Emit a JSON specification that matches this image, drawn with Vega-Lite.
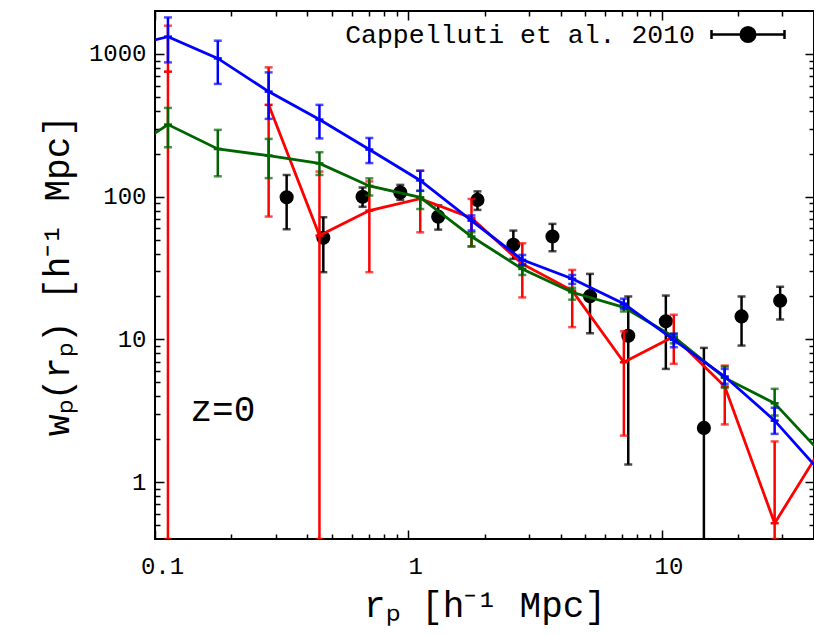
{
  "$schema": "https://vega.github.io/schema/vega-lite/v6.json",
  "width": 659,
  "height": 528,
  "autosize": "none",
  "padding": {"left": 155, "top": 11, "right": 0, "bottom": 96},
  "config": {
    "view": {"stroke": "black", "strokeWidth": 2},
    "font": "Liberation Mono",
    "axis": {
      "grid": false,
      "domain": false,
      "tickColor": "black",
      "tickWidth": 1.5,
      "labelColor": "black",
      "labelFont": "Liberation Mono",
      "labelFontSize": 24,
      "titleFont": "Liberation Mono",
      "titleFontSize": 36,
      "titleFontWeight": "normal",
      "titleColor": "black"
    },
    "legend": {
      "labelFont": "Liberation Mono",
      "labelFontSize": 26,
      "labelColor": "black",
      "labelLimit": 600
    }
  },
  "datasets": {
    "blue": [
      {"x": 0.0707, "y": 1077, "lo": null, "hi": null},
      {"x": 0.1125, "y": 1322, "lo": 873, "hi": 1803},
      {"x": 0.177, "y": 931, "lo": 617, "hi": 1239},
      {"x": 0.281, "y": 545, "lo": 351, "hi": 743},
      {"x": 0.446, "y": 347, "lo": 256, "hi": 440},
      {"x": 0.702, "y": 214, "lo": 172, "hi": 258},
      {"x": 1.115, "y": 130, "lo": 110, "hi": 152},
      {"x": 1.777, "y": 68, "lo": 58, "hi": 74},
      {"x": 2.82, "y": 36.1, "lo": 33.3, "hi": 39.1},
      {"x": 4.44, "y": 26.6, "lo": 24.5, "hi": 28.3},
      {"x": 7.1, "y": 17.8, "lo": 16.4, "hi": 19.3},
      {"x": 11.18, "y": 9.94, "lo": 8.82, "hi": 10.95},
      {"x": 17.77, "y": 5.5, "lo": 4.89, "hi": 6.22},
      {"x": 27.97, "y": 2.7, "lo": 2.18, "hi": 3.32},
      {"x": 44.4, "y": 1.08, "lo": null, "hi": null}
    ],
    "green": [
      {"x": 0.0707, "y": 186, "lo": null, "hi": null},
      {"x": 0.1125, "y": 320, "lo": 222, "hi": 419},
      {"x": 0.177, "y": 216, "lo": 139, "hi": 294},
      {"x": 0.281, "y": 194, "lo": 135, "hi": 254},
      {"x": 0.446, "y": 171, "lo": 142, "hi": 205},
      {"x": 0.702, "y": 119, "lo": 102, "hi": 134.5},
      {"x": 1.115, "y": 99, "lo": 82, "hi": 110},
      {"x": 1.777, "y": 52.6, "lo": 44.7, "hi": 56.4},
      {"x": 2.82, "y": 31.2, "lo": 28.3, "hi": 32.9},
      {"x": 4.44, "y": 21.4, "lo": 19.0, "hi": 23.0},
      {"x": 7.1, "y": 16.8, "lo": 15.7, "hi": 17.5},
      {"x": 11.18, "y": 10.4, "lo": 9.4, "hi": 11.0},
      {"x": 17.77, "y": 5.38, "lo": 4.58, "hi": 6.46},
      {"x": 27.97, "y": 3.57, "lo": 2.93, "hi": 4.51},
      {"x": 44.4, "y": 1.48, "lo": null, "hi": null}
    ],
    "red": [
      {"x": 0.1125, "y": 752, "lo": 0.4, "hi": 1578},
      {"x": 0.177, "y": null, "lo": null, "hi": null},
      {"x": 0.281, "y": 440, "lo": 72.6, "hi": 806},
      {"x": 0.446, "y": 53.4, "lo": 0.4, "hi": 150},
      {"x": 0.702, "y": 79.9, "lo": 29.6, "hi": 128},
      {"x": 1.115, "y": 97, "lo": 56.3, "hi": 152},
      {"x": 1.777, "y": 71, "lo": 45, "hi": 96.5},
      {"x": 2.82, "y": 33.8, "lo": 19.7, "hi": 47.2},
      {"x": 4.44, "y": 22.0, "lo": 12.2, "hi": 30.7},
      {"x": 7.1, "y": 6.92, "lo": 2.12, "hi": 11.4},
      {"x": 11.18, "y": 10.5, "lo": 6.75, "hi": 14.9},
      {"x": 17.77, "y": 4.68, "lo": 2.54, "hi": 6.56},
      {"x": 27.97, "y": 0.516, "lo": 0.4, "hi": 1.93},
      {"x": 44.4, "y": 1.93, "lo": null, "hi": null}
    ],
    "obs": [
      {"x": 0.331, "y": 99, "lo": 59.1, "hi": 142},
      {"x": 0.462, "y": 51.5, "lo": 29.6, "hi": 71.8},
      {"x": 0.66, "y": 100, "lo": 85, "hi": 116},
      {"x": 0.93, "y": 107, "lo": 95, "hi": 121},
      {"x": 1.313, "y": 72.5, "lo": 58.8, "hi": 87},
      {"x": 1.876, "y": 95, "lo": 80.8, "hi": 109},
      {"x": 2.6, "y": 46, "lo": 36.7, "hi": 57.9},
      {"x": 3.71, "y": 52.6, "lo": 41.5, "hi": 64.5},
      {"x": 5.22, "y": 20.1, "lo": 11.05, "hi": 28.8},
      {"x": 7.39, "y": 10.6, "lo": 1.33, "hi": 20.0},
      {"x": 10.4, "y": 13.4, "lo": 6.22, "hi": 20.3},
      {"x": 14.7, "y": 2.4, "lo": 0.01, "hi": 8.73},
      {"x": 20.7, "y": 14.5, "lo": 9.06, "hi": 20.0},
      {"x": 29.4, "y": 18.7, "lo": 13.8, "hi": 23.4}
    ],
    "label": [
      {"text": "z=0"}
    ]
  },
  "resolve": {"axis": {"x": "independent", "y": "independent"}},
  "layer": [
    {
      "data": {"name": "obs"},
      "mark": {"type": "errorbar", "ticks": {"size": 8, "thickness": 2.5}, "thickness": 2.5, "color": "black", "clip": true},
      "encoding": {
        "x": {"field": "x", "type": "quantitative",
              "scale": {"type": "log", "domain": [0.1, 40], "nice": false},
              "axis": {"orient": "bottom", "values": [0.1, 1, 10], "format": "~g", "tickSize": -9, "labelPadding": 24, "labelOffset": 7, "labelFlush": false,
                       "title": "rₚ [h⁻¹ Mpc]", "titlePadding": 10}},
        "y": {"field": "lo", "type": "quantitative",
              "scale": {"type": "log", "domain": [0.4, 2000], "nice": false},
              "axis": {"orient": "left", "values": [1, 10, 100, 1000], "format": "d", "tickSize": -9, "labelPadding": 18,
                       "title": "wₚ(rₚ)  [h⁻¹ Mpc]", "titlePadding": 12}},
        "y2": {"field": "hi"}
      }
    },
    {
      "data": {"name": "obs"},
      "mark": {"type": "point", "opacity": 0},
      "encoding": {
        "x": {"field": "x", "type": "quantitative",
              "axis": {"orient": "bottom", "values": [0.2,0.3,0.4,0.5,0.6,0.7,0.8,0.9,2,3,4,5,6,7,8,9,20,30], "tickSize": -5, "labels": false, "title": null}},
        "y": {"field": "y", "type": "quantitative",
              "axis": {"orient": "left", "values": [0.5,0.6,0.7,0.8,0.9,2,3,4,5,6,7,8,9,20,30,40,50,60,70,80,90,200,300,400,500,600,700,800,900], "tickSize": -5, "labels": false, "title": null}}
      }
    },
    {
      "data": {"name": "obs"},
      "mark": {"type": "point", "opacity": 0},
      "encoding": {
        "x": {"field": "x", "type": "quantitative",
              "axis": {"orient": "top", "values": [0.1, 1, 10], "tickSize": -9, "labels": false, "title": null}},
        "y": {"field": "y", "type": "quantitative",
              "axis": {"orient": "right", "values": [1, 10, 100, 1000], "tickSize": -9, "labels": false, "title": null}}
      }
    },
    {
      "data": {"name": "obs"},
      "mark": {"type": "point", "opacity": 0},
      "encoding": {
        "x": {"field": "x", "type": "quantitative",
              "axis": {"orient": "top", "values": [0.2,0.3,0.4,0.5,0.6,0.7,0.8,0.9,2,3,4,5,6,7,8,9,20,30], "tickSize": -5, "labels": false, "title": null}},
        "y": {"field": "y", "type": "quantitative",
              "axis": {"orient": "right", "values": [0.5,0.6,0.7,0.8,0.9,2,3,4,5,6,7,8,9,20,30,40,50,60,70,80,90,200,300,400,500,600,700,800,900], "tickSize": -5, "labels": false, "title": null}}
      }
    },
    {
      "data": {"name": "obs"},
      "mark": {"type": "point", "filled": true, "size": 200, "opacity": 1, "clip": true},
      "encoding": {
        "x": {"field": "x", "type": "quantitative", "axis": null},
        "y": {"field": "y", "type": "quantitative", "axis": null},
        "color": {"datum": "Cappelluti et al. 2010", "type": "nominal",
                  "scale": {"range": ["black"]},
                  "legend": {"title": null, "orient": "none", "legendX": 555, "legendY": -14.5, "padding": 0,
                             "symbolType": "M-1,0H1M-1,-0.12V0.12M1,-0.12V0.12M0.2,0A0.2,0.2,0,1,1,-0.2,0A0.2,0.2,0,1,1,0.2,0Z",
                             "symbolSize": 5329, "symbolStrokeColor": "black", "symbolStrokeWidth": 2.5, "symbolFillColor": "black",
                             "labelAlign": "right", "labelOffset": -91, "labelFontSize": 26.5}}
      }
    },
    {
      "data": {"name": "red"},
      "mark": {"type": "errorbar", "ticks": {"size": 8, "thickness": 2.5}, "thickness": 2.5, "color": "#ff0000", "clip": true},
      "encoding": {
        "x": {"field": "x", "type": "quantitative", "axis": null},
        "y": {"field": "lo", "type": "quantitative", "axis": null},
        "y2": {"field": "hi"}
      }
    },
    {
      "data": {"name": "red"},
      "mark": {"type": "line", "color": "#ff0000", "strokeWidth": 2.8, "clip": true, "invalid": "break-paths-show-domains"},
      "encoding": {
        "x": {"field": "x", "type": "quantitative", "axis": null},
        "y": {"field": "y", "type": "quantitative", "axis": null}
      }
    },
    {
      "data": {"name": "red"},
      "mark": {"type": "point", "shape": "stroke", "size": 64, "strokeWidth": 2.5, "color": "#ff0000", "opacity": 1, "clip": true},
      "encoding": {
        "x": {"field": "x", "type": "quantitative", "axis": null},
        "y": {"field": "y", "type": "quantitative", "axis": null}
      }
    },
    {
      "data": {"name": "green"},
      "mark": {"type": "errorbar", "ticks": {"size": 8, "thickness": 2.5}, "thickness": 2.5, "color": "#006400", "clip": true},
      "encoding": {
        "x": {"field": "x", "type": "quantitative", "axis": null},
        "y": {"field": "lo", "type": "quantitative", "axis": null},
        "y2": {"field": "hi"}
      }
    },
    {
      "data": {"name": "green"},
      "mark": {"type": "line", "color": "#006400", "strokeWidth": 2.8, "clip": true},
      "encoding": {
        "x": {"field": "x", "type": "quantitative", "axis": null},
        "y": {"field": "y", "type": "quantitative", "axis": null}
      }
    },
    {
      "data": {"name": "green"},
      "mark": {"type": "point", "shape": "stroke", "size": 64, "strokeWidth": 2.5, "color": "#006400", "opacity": 1, "clip": true},
      "encoding": {
        "x": {"field": "x", "type": "quantitative", "axis": null},
        "y": {"field": "y", "type": "quantitative", "axis": null}
      }
    },
    {
      "data": {"name": "blue"},
      "mark": {"type": "errorbar", "ticks": {"size": 8, "thickness": 2.5}, "thickness": 2.5, "color": "#0000ff", "clip": true},
      "encoding": {
        "x": {"field": "x", "type": "quantitative", "axis": null},
        "y": {"field": "lo", "type": "quantitative", "axis": null},
        "y2": {"field": "hi"}
      }
    },
    {
      "data": {"name": "blue"},
      "mark": {"type": "line", "color": "#0000ff", "strokeWidth": 2.8, "clip": true},
      "encoding": {
        "x": {"field": "x", "type": "quantitative", "axis": null},
        "y": {"field": "y", "type": "quantitative", "axis": null}
      }
    },
    {
      "data": {"name": "blue"},
      "mark": {"type": "point", "shape": "stroke", "size": 64, "strokeWidth": 2.5, "color": "#0000ff", "opacity": 1, "clip": true},
      "encoding": {
        "x": {"field": "x", "type": "quantitative", "axis": null},
        "y": {"field": "y", "type": "quantitative", "axis": null}
      }
    },
    {
      "data": {"name": "label"},
      "mark": {"type": "text", "fontSize": 36, "font": "Liberation Mono", "align": "left", "baseline": "middle", "color": "black"},
      "encoding": {
        "x": {"datum": 0.138, "type": "quantitative", "axis": null},
        "y": {"datum": 3.18, "type": "quantitative", "axis": null},
        "text": {"field": "text", "type": "nominal"}
      }
    }
  ]
}
